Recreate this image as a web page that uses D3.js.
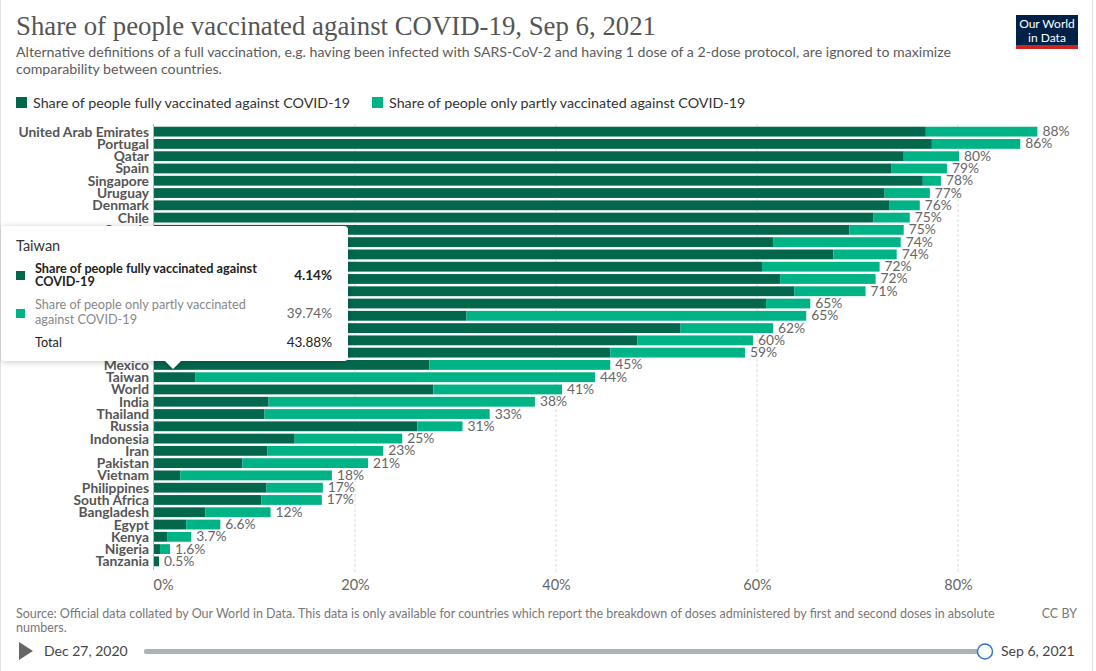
<!DOCTYPE html>
<html><head><meta charset="utf-8">
<script src="https://cdn.jsdelivr.net/npm/d3@7"></script>
<style>
body{margin:0;background:#fff}
svg{display:block}
text{font-family:Lato,"Noto Sans",sans-serif}
</style>
</head><body>
<svg id="c" width="1096" height="671"></svg>
<script>
const countries = ["United Arab Emirates","Portugal","Qatar","Spain","Singapore","Uruguay","Denmark","Chile",
  "Canada","China","Italy","France","Israel","United Kingdom","Germany","Brazil","United States","Japan","Turkey",
  "Mexico","Taiwan","World","India","Thailand","Russia","Indonesia","Iran","Pakistan","Vietnam","Philippines",
  "South Africa","Bangladesh","Egypt","Kenya","Nigeria","Tanzania"];
const fully  = [76.8,77.4,74.6,73.4,76.5,72.7,73.2,71.6,69.2,61.6,67.6,60.5,62.3,63.7,60.9,31.1,52.4,48.1,45.4,
  27.4,4.14,27.8,11.4,11.0,26.2,14.0,11.3,8.8,2.6,11.2,10.7,5.1,3.2,1.3,0.6,0.5];
const partly = [11.1,8.8,5.5,5.5,1.8,4.5,3.0,3.6,5.4,12.7,6.3,11.7,9.5,7.1,4.4,33.8,9.2,11.5,13.4,
  18.0,39.74,12.8,26.5,22.4,4.5,10.7,11.5,12.5,15.1,5.6,6.0,6.5,3.4,2.4,1.0,0.0];
const xTicks = [0,20,40,60,80];
const seriesNames = ["Share of people fully vaccinated against COVID-19","Share of people only partly vaccinated against COVID-19"];
const colors = ["#03674e","#00b386"];
const tooltipCountry = "Taiwan";

const svg = d3.select("#c");
// frame
svg.append("rect").attr("x",0.5).attr("y",-1).attr("width",1092).attr("height",673)
  .attr("fill","none").attr("stroke","#e2e2e2");

// title & subtitle
svg.append("text").attr("x",16).attr("y",35)
  .style("font-family","'Liberation Serif',serif").attr("font-size",26.8).attr("fill","#555")
  .text("Share of people vaccinated against COVID-19, Sep 6, 2021");
const sub = svg.append("text").attr("font-size",14.17).attr("fill","#5b5b5b");
sub.append("tspan").attr("x",16).attr("y",57).text("Alternative definitions of a full vaccination, e.g. having been infected with SARS-CoV-2 and having 1 dose of a 2-dose protocol, are ignored to maximize");
sub.append("tspan").attr("x",16).attr("y",74).text("comparability between countries.");

// logo
const logo = svg.append("g");
logo.append("rect").attr("x",1016).attr("y",15).attr("width",62).attr("height",34).attr("fill","#002147");
logo.append("rect").attr("x",1016).attr("y",45).attr("width",62).attr("height",4).attr("fill","#ce261e");
logo.append("text").attr("x",1047).attr("y",28).attr("text-anchor","middle").attr("font-size",12).attr("fill","#fff").text("Our World");
logo.append("text").attr("x",1047).attr("y",42).attr("text-anchor","middle").attr("font-size",12).attr("fill","#fff").text("in Data");

// legend
const legX = [16,372];
seriesNames.forEach((n,i)=>{
  svg.append("rect").attr("x",legX[i]).attr("y",97).attr("width",11).attr("height",11).attr("fill",colors[i]);
  svg.append("text").attr("x",legX[i]+17).attr("y",108).attr("font-size",14.3).attr("fill","#333").text(n);
});

// scales
const x = d3.scaleLinear().domain([0,80]).range([154,958]);
const y = d3.scaleBand().domain(countries).range([125.5,567.5]).paddingInner(0.2).paddingOuter(0.1);

// gridlines
svg.append("g").selectAll("line").data(xTicks.filter(d=>d>0)).join("line")
  .attr("x1",d=>x(d)).attr("x2",d=>x(d)).attr("y1",124).attr("y2",572)
  .attr("stroke","#ddd").attr("stroke-dasharray","3,2");
svg.append("line").attr("x1",x(0)-0.5).attr("x2",x(0)-0.5).attr("y1",124).attr("y2",570).attr("stroke","#bbb");

// axis tick labels
const xAxis = d3.axisBottom(x).tickValues(xTicks).tickFormat(d=>d+"%").tickSize(0);
const ax = svg.append("g").attr("transform","translate(0,577)").call(xAxis);
ax.select(".domain").remove();
ax.selectAll("text").attr("font-size",14.5).attr("fill","#666").style("font-family","Lato")
  .attr("dx",d=>d===0?9:0);

// bars
const rows = countries.map((c,i)=>({c,f:fully[i],p:partly[i],t:fully[i]+partly[i]}));
const g = svg.append("g");
g.selectAll("rect.f").data(rows).join("rect").attr("class","f")
  .attr("x",x(0)).attr("y",d=>y(d.c)).attr("height",y.bandwidth())
  .attr("width",d=>x(d.f)-x(0)).attr("fill",colors[0]);
g.selectAll("rect.p").data(rows).join("rect").attr("class","p")
  .attr("x",d=>x(d.f)).attr("y",d=>y(d.c)).attr("height",y.bandwidth())
  .attr("width",d=>x(d.t)-x(d.f)).attr("fill",colors[1]);
const fmt = d3.format(".2~r");
g.selectAll("text.v").data(rows).join("text").attr("class","v")
  .attr("x",d=>x(d.t)+5).attr("y",d=>y(d.c)+y.bandwidth()/2+4.5)
  .attr("font-size",13.8).attr("fill","#666").text(d=>fmt(d.t)+"%");
// country labels (those fully hidden behind the tooltip box are not drawn)
const tipTop = 226, tipBottom = 361;
const cy = d => y(d.c)+y.bandwidth()/2;
g.selectAll("text.c").data(rows.filter(d=>!(cy(d)-5>tipTop && cy(d)+5<tipBottom))).join("text").attr("class","c")
  .attr("x",149).attr("y",d=>cy(d)+5).attr("text-anchor","end")
  .attr("font-size",13.8).attr("font-weight",700).attr("fill","#555").text(d=>d.c);

// tooltip
const ti = countries.indexOf(tooltipCountry);
const tf = fully[ti], tp = partly[ti];
const defs = svg.append("defs");
const flt = defs.append("filter").attr("id","sh").attr("x","-20%").attr("y","-20%").attr("width","140%").attr("height","140%");
flt.append("feDropShadow").attr("dx",0).attr("dy",1).attr("stdDeviation",3).attr("flood-color","#000").attr("flood-opacity",0.22);
const tt = svg.append("g").attr("filter","url(#sh)");
tt.append("path")
  .attr("d",`M5,${tipTop} H344 Q348,${tipTop} 348,${tipTop+4} V${tipBottom-4} Q348,${tipBottom} 344,${tipBottom} H181 L173,369 L165,${tipBottom} H5 Q1,${tipBottom} 1,${tipBottom-4} V${tipTop+4} Q1,${tipTop} 5,${tipTop} Z`)
  .attr("fill","#fff");
const tg = svg.append("g");
tg.append("text").attr("x",16).attr("y",251).attr("font-size",14.5).attr("fill","#333").text(tooltipCountry);
tg.append("rect").attr("x",16).attr("y",271).attr("width",9).attr("height",9).attr("fill",colors[0]);
const t1 = tg.append("text").attr("font-size",12.7).attr("font-weight",700).attr("fill","#222");
t1.append("tspan").attr("x",35).attr("y",273).text("Share of people fully vaccinated against");
t1.append("tspan").attr("x",35).attr("y",286).text("COVID-19");
tg.append("text").attr("x",332).attr("y",279.5).attr("text-anchor","end").attr("font-size",13.5).attr("font-weight",700).attr("fill","#222").text(d3.format(".2f")(tf)+"%");
tg.append("rect").attr("x",16).attr("y",309).attr("width",9).attr("height",9).attr("fill",colors[1]);
const t2 = tg.append("text").attr("font-size",12.7).attr("fill","#888");
t2.append("tspan").attr("x",35).attr("y",309).text("Share of people only partly vaccinated");
t2.append("tspan").attr("x",35).attr("y",324).text("against COVID-19");
tg.append("text").attr("x",332).attr("y",318).attr("text-anchor","end").attr("font-size",13.5).attr("fill","#666").text(d3.format(".2f")(tp)+"%");
tg.append("text").attr("x",35).attr("y",347).attr("font-size",12.7).attr("fill","#222").text("Total");
tg.append("text").attr("x",332).attr("y",347).attr("text-anchor","end").attr("font-size",13.5).attr("fill","#222").text(d3.format(".2f")(tf+tp)+"%");

// footer
const ft = svg.append("text").attr("font-size",12.5).attr("fill","#777");
ft.append("tspan").attr("x",16).attr("y",618).text("Source: Official data collated by Our World in Data. This data is only available for countries which report the breakdown of doses administered by first and second doses in absolute");
ft.append("tspan").attr("x",16).attr("y",632).text("numbers.");
svg.append("text").attr("x",1077).attr("y",618).attr("text-anchor","end").attr("font-size",12.5).attr("fill","#777").text("CC BY");

// timeline
svg.append("path").attr("d","M19,642 L33,651 L19,660 Z").attr("fill","#666");
svg.append("text").attr("x",44).attr("y",656).attr("font-size",14).attr("fill","#444").text("Dec 27, 2020");
svg.append("rect").attr("x",144).attr("y",649).attr("width",842).attr("height",5).attr("rx",2).attr("fill","#aab2ba");
svg.append("circle").attr("cx",985).attr("cy",651.5).attr("r",7.5).attr("fill","#fff").attr("stroke","#2f79c8").attr("stroke-width",1.5);
svg.append("text").attr("x",1001).attr("y",656).attr("font-size",14).attr("fill","#444").text("Sep 6, 2021");
</script>
</body></html>
